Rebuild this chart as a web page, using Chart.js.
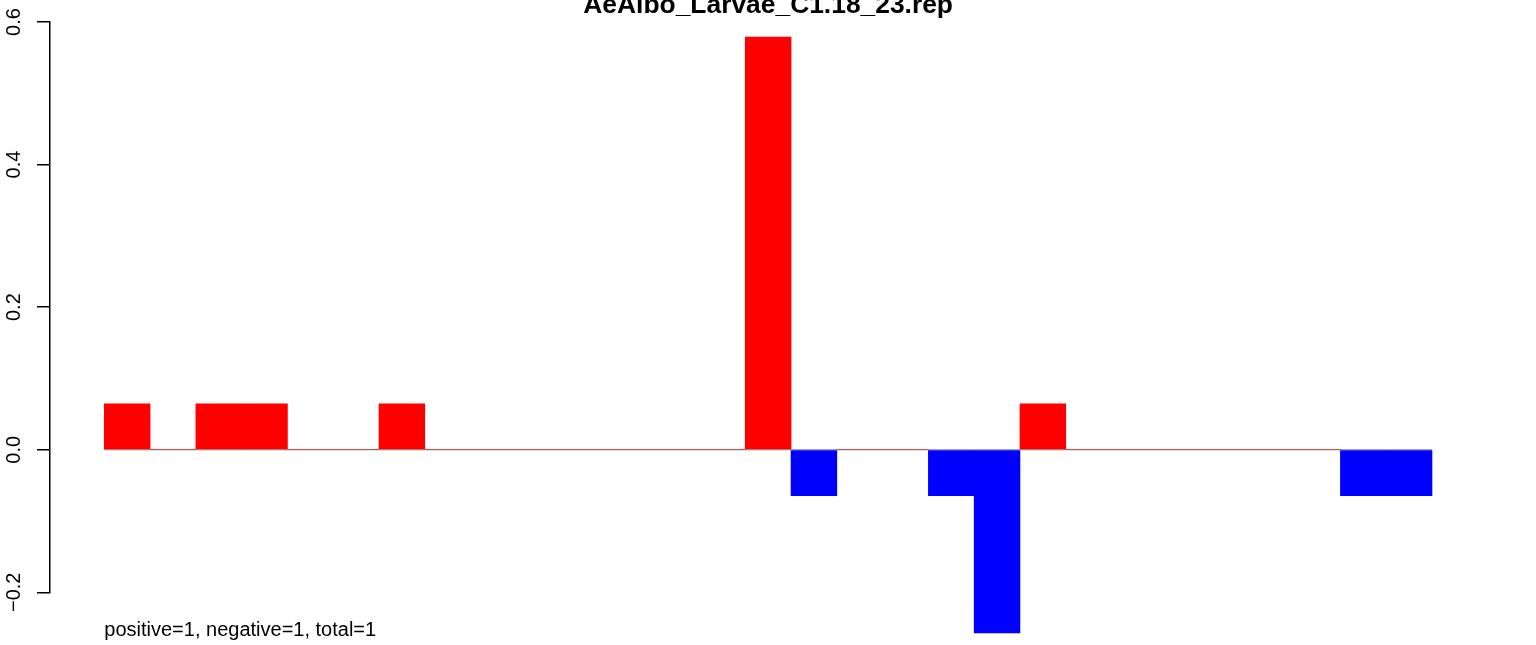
<!DOCTYPE html>
<html>
<head>
<meta charset="utf-8">
<title>AeAlbo_Larvae_C1.18_23.rep</title>
<script src="https://cdn.jsdelivr.net/npm/chart.js@4/dist/chart.umd.min.js"></script>
<style>
  html, body { margin: 0; padding: 0; background: #fff; overflow: hidden; }
  canvas { display: block; }
</style>
</head>
<body>
<canvas id="chart" width="1536" height="645"></canvas>
<script>
// one bar per position, 29 in a row, no gaps
const values = [
  0.0643, 0, 0.0643, 0.0643, 0, 0, 0.0643, 0, 0, 0,
  0, 0, 0, 0, 0.579, -0.0643, 0, 0, -0.0643, -0.257,
  0.0643, 0, 0, 0, 0, 0, 0, -0.0643, -0.0643
];
const yTicks = [-0.2, 0, 0.2, 0.4, 0.6];
const title = "AeAlbo_Larvae_C1.18_23.rep";
const footnote = "positive=1, negative=1, total=1";

const FONT = "'Liberation Sans', Arial, sans-serif";

const barData = values.map((v, i) => ({ x: i + 0.5, y: v }));
const barColors = values.map(v => (v < 0 ? "#0000ff" : "#ff0000"));

// title and footnote text, placed like the R plot
const textPlugin = {
  id: "rtext",
  afterDraw(chart) {
    const c = chart.ctx;
    const area = chart.chartArea;
    const xs = chart.scales.x;
    c.save();
    c.fillStyle = "#000";
    c.font = "bold 26.4px " + FONT;
    c.textAlign = "center";
    c.textBaseline = "alphabetic";
    c.fillText(title, (area.left + area.right) / 2, 12.5);
    c.font = "20px " + FONT;
    c.textAlign = "left";
    c.fillText(footnote, xs.getPixelForValue(0), 636);
    c.restore();
  }
};

new Chart(document.getElementById("chart"), {
  type: "bar",
  data: {
    datasets: [
      {
        type: "line",
        data: [{ x: 0, y: 0 }, { x: values.length, y: 0 }],
        borderColor: "#808080",
        borderWidth: 1.2,
        pointRadius: 0,
        order: 2,
      },
      {
        data: barData,
        backgroundColor: barColors,
        borderWidth: 0,
        barPercentage: 1,
        categoryPercentage: 1,
        clip: false,
        order: 1,
      },
    ],
  },
  options: {
    responsive: false,
    animation: false,
    devicePixelRatio: 1,
    layout: { padding: { left: 0, right: 49.7, top: 22, bottom: 52.7 } },
    plugins: {
      legend: { display: false },
      tooltip: { enabled: false },
    },
    scales: {
      x: {
        type: "linear",
        display: false,
        offset: false,
        min: -1.186,
        max: values.length + 1.186,
      },
      y: {
        min: -0.2,
        max: 0.6,
        afterFit(scale) { scale.width = 50; },
        afterBuildTicks(scale) { scale.ticks = yTicks.map(v => ({ value: v })); },
        grid: {
          drawOnChartArea: false,
          color: "#000",
          lineWidth: 1.5,
          tickLength: 13,
        },
        border: { display: true, color: "#000", width: 1.5 },
        ticks: {
          minRotation: 90,
          maxRotation: 90,
          crossAlign: "center",
          padding: 3,
          color: "#000",
          font: { family: FONT, size: 20 },
          callback: v => (v < 0 ? "\u2212" + Math.abs(v).toFixed(1) : v.toFixed(1)),
        },
      },
    },
  },
  plugins: [textPlugin],
});
</script>
</body>
</html>
